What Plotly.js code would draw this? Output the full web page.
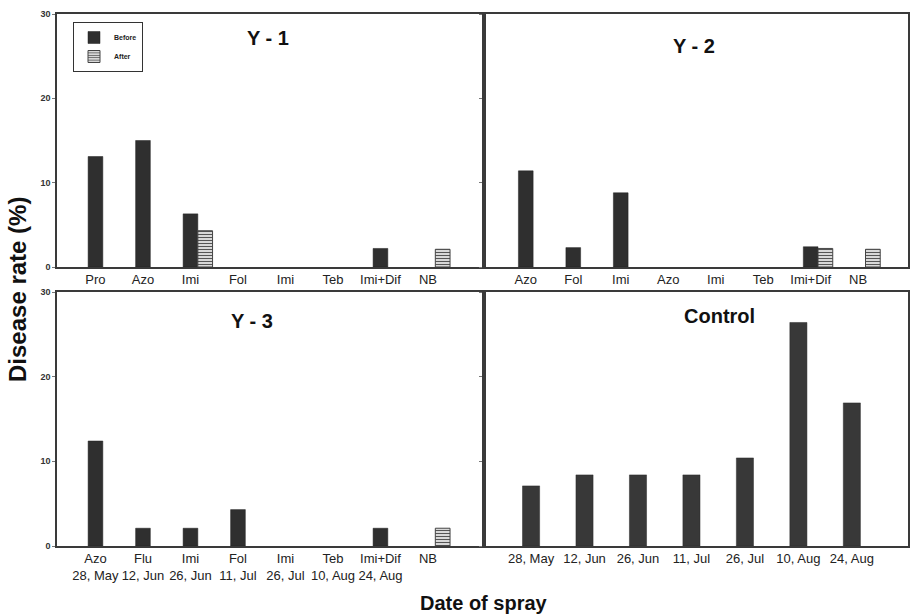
<!DOCTYPE html>
<html>
<head>
<meta charset="utf-8">
<script src="https://cdn.plot.ly/plotly-3.0.1.min.js"></script>
<style>
  html, body { margin: 0; padding: 0; background: #fff; }
  #chart { width: 911px; height: 615px; }
</style>
</head>
<body>
<div id="chart"></div>
<script>
// Fungicide spray programme per field and disease rate before / after each spray
const y1Labels = ["Pro", "Azo", "Imi", "Fol", "Imi", "Teb", "Imi+Dif", "NB"];
const y1Before = [13.1, 15.0, 6.3, null, null, null, 2.2, null];
const y1After  = [null, null, 4.3, null, null, null, null, 2.1];

const y2Labels = ["Azo", "Fol", "Imi", "Azo", "Imi", "Teb", "Imi+Dif", "NB"];
const y2Before = [11.4, 2.3, 8.8, null, null, null, 2.4, null];
const y2After  = [null, null, null, null, null, null, 2.2, 2.1];

const y3Labels = ["Azo<br>28, May", "Flu<br>12, Jun", "Imi<br>26, Jun", "Fol<br>11, Jul",
                  "Imi<br>26, Jul", "Teb<br>10, Aug", "Imi+Dif<br>24, Aug", "NB"];
const y3Before = [12.4, 2.1, 2.1, 4.3, null, null, 2.1, null];
const y3After  = [null, null, null, null, null, null, null, 2.1];

const controlLabels = ["28, May", "12, Jun", "26, Jun", "11, Jul", "26, Jul", "10, Aug", "24, Aug"];
const controlValues = [7.1, 8.4, 8.4, 8.4, 10.4, 26.4, 16.9];

const yTicks = [0, 10, 20, 30];

// ---- styling ----
const W = 911, H = 615;
const px = v => v / W;
const py = v => 1 - v / H;
const DARK = "#2f2f2f";
const LINE = "#3a3a3a";
const FAMILY = "Liberation Sans, Arial, sans-serif";
const tickFont = { family: FAMILY, size: 13, color: "#222" };
const idx = arr => arr.map((_, i) => i);

const beforeStyle = { color: DARK, line: { color: "#222", width: 0.5 } };
const afterStyle = {
  color: "#f2f2f2",
  line: { color: "#444", width: 1 },
  pattern: { shape: "-", fgcolor: "#555", bgcolor: "#f4f4f4", size: 3, solidity: 0.45 }
};

function pair(labels, before, after, xa, ya, legend) {
  return [
    { type: "bar", name: "Before", x: idx(labels), y: before, xaxis: xa, yaxis: ya,
      width: 0.31, offset: -0.155, marker: beforeStyle, showlegend: legend,
      legendgroup: "b", hoverinfo: "y" },
    { type: "bar", name: "After", x: idx(labels), y: after, xaxis: xa, yaxis: ya,
      width: 0.31, offset: 0.155, marker: afterStyle, showlegend: legend,
      legendgroup: "a", hoverinfo: "y" }
  ];
}

const data = [
  ...pair(y1Labels, y1Before, y1After, "x", "y", true),
  ...pair(y2Labels, y2Before, y2After, "x2", "y2", false),
  ...pair(y3Labels, y3Before, y3After, "x3", "y3", false),
  { type: "bar", name: "Control", x: idx(controlLabels), y: controlValues, xaxis: "x4", yaxis: "y4",
    width: 0.32, offset: -0.16, marker: { color: "#383838", line: { color: "#2a2a2a", width: 0.5 } },
    showlegend: false, hoverinfo: "y" }
];

function xAxis(domain, range, labels, anchor) {
  return {
    domain: domain, range: range, anchor: anchor, type: "linear",
    tickvals: idx(labels), ticktext: labels, tickfont: tickFont,
    ticks: "", showgrid: false, zeroline: false,
    showline: true, mirror: true, linecolor: LINE, linewidth: 1.6, fixedrange: true
  };
}
function yAxis(domain, anchor, labels) {
  return {
    domain: domain, range: [0, 30], anchor: anchor,
    tickvals: yTicks, showticklabels: labels,
    tickfont: { family: FAMILY, size: 9, color: "#333", weight: "bold" },
    ticks: "outside", ticklen: 3, tickcolor: "#777", tickwidth: 1,
    showgrid: false, zeroline: false,
    showline: true, mirror: true, linecolor: LINE, linewidth: 1.6, fixedrange: true
  };
}

const leftX = [px(57), px(484)];
const rightX = [px(484), px(908)];
const topY = [py(267), py(14)];
const botY = [py(546), py(292)];

const titleFont = { family: FAMILY, size: 20, color: "#111", weight: "bold" };

function label(text, x, y, font, angle) {
  return { text: text, x: px(x), y: py(y), xref: "paper", yref: "paper",
           xanchor: "center", yanchor: "middle", showarrow: false,
           textangle: angle || 0, font: font };
}

const layout = {
  width: W, height: H,
  margin: { l: 0, r: 0, t: 0, b: 0 },
  paper_bgcolor: "#fff", plot_bgcolor: "#fff",
  barmode: "overlay",
  xaxis:  xAxis(leftX,  [-0.81, 8.18], y1Labels, "y"),
  yaxis:  yAxis(topY, "x", true),
  xaxis2: xAxis(rightX, [-0.88, 8.05], y2Labels, "y2"),
  yaxis2: yAxis(topY, "x2", false),
  xaxis3: xAxis(leftX,  [-0.81, 8.18], y3Labels, "y3"),
  yaxis3: yAxis(botY, "x3", true),
  xaxis4: xAxis(rightX, [-0.88, 7.05], controlLabels, "y4"),
  yaxis4: yAxis(botY, "x4", false),
  legend: {
    x: px(73), y: py(22), xanchor: "left", yanchor: "top",
    bgcolor: "#fff", bordercolor: "#333", borderwidth: 1,
    font: { family: FAMILY, size: 7, color: "#222", weight: "bold" },
    itemwidth: 30, traceorder: "normal"
  },
  annotations: [
    label("Y - 1", 268, 38, titleFont),
    label("Y - 2", 694, 46, titleFont),
    label("Y - 3", 252, 321, titleFont),
    label("Control", 719, 316, titleFont),
    label("Disease rate (%)", 17, 290, { family: FAMILY, size: 24, color: "#111", weight: "bold" }, -90),
    label("Date of spray", 484, 603, { family: FAMILY, size: 20, color: "#111", weight: "bold" })
  ]
};

Plotly.newPlot("chart", data, layout, { displayModeBar: false, staticPlot: true });
</script>
</body>
</html>
